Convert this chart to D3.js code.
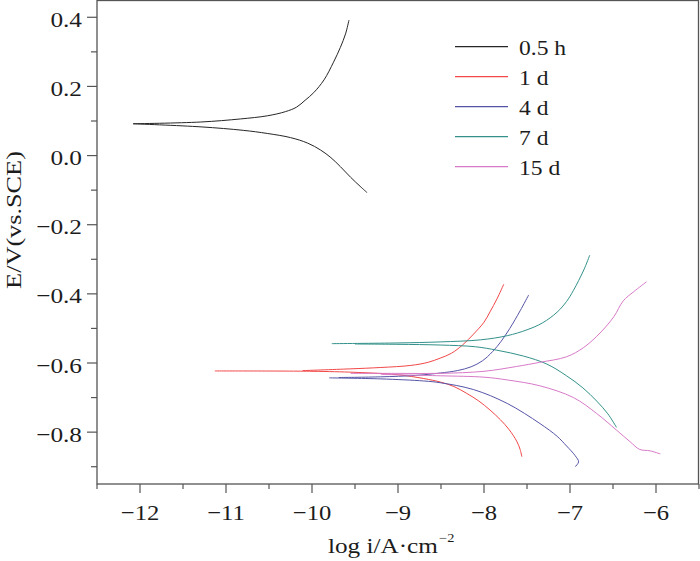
<!DOCTYPE html>
<html>
<head>
<meta charset="utf-8">
<script src="https://cdn.jsdelivr.net/npm/d3@7"></script>
<style>
  body { margin: 0; background: #fff; }
  svg { display: block; }
  text { font-family: "Liberation Serif", "Times New Roman", serif; fill: #1c1c1c; }
</style>
</head>
<body>
<div id="chart"></div>
<script>
// log i (A/cm2) vs E (V vs SCE), each curve = anodic + cathodic branch
var h05Anodic  = [[-12.08,0.092],[-11.3,0.097],[-10.83,0.106],[-10.52,0.115],[-10.31,0.127],[-10.18,0.140],[-10.08,0.160],[-9.98,0.182],[-9.86,0.219],[-9.75,0.270],[-9.67,0.313],[-9.61,0.352],[-9.57,0.392]];
var h05Cathodic = [[-12.08,0.092],[-11.29,0.083],[-10.8,0.073],[-10.52,0.064],[-10.25,0.052],[-10.05,0.036],[-9.90,0.016],[-9.78,-0.006],[-9.67,-0.032],[-9.55,-0.063],[-9.44,-0.089],[-9.36,-0.107]];

var d1Anodic   = [[-10.11,-0.622],[-9.56,-0.617],[-9.2,-0.613],[-8.85,-0.607],[-8.65,-0.598],[-8.51,-0.586],[-8.38,-0.572],[-8.25,-0.548],[-8.12,-0.516],[-8.0,-0.482],[-7.93,-0.452],[-7.85,-0.415],[-7.77,-0.372]];
var d1Cathodic = [[-11.13,-0.623],[-10.0,-0.624],[-9.5,-0.627],[-9.0,-0.634],[-8.70,-0.645],[-8.51,-0.655],[-8.35,-0.668],[-8.20,-0.688],[-8.06,-0.710],[-7.93,-0.736],[-7.81,-0.764],[-7.71,-0.792],[-7.62,-0.826],[-7.58,-0.850],[-7.56,-0.871]];

var d4Anodic   = [[-9.69,-0.642],[-9.2,-0.640],[-8.8,-0.636],[-8.51,-0.629],[-8.31,-0.622],[-8.15,-0.611],[-8.02,-0.594],[-7.90,-0.567],[-7.80,-0.537],[-7.70,-0.500],[-7.58,-0.449],[-7.48,-0.403]];
var d4Cathodic = [[-9.80,-0.643],[-9.2,-0.646],[-8.70,-0.652],[-8.51,-0.657],[-8.12,-0.677],[-7.73,-0.717],[-7.35,-0.775],[-7.15,-0.812],[-7.04,-0.840],[-6.94,-0.868],[-6.90,-0.886],[-6.94,-0.900]];

var d7Anodic   = [[-9.77,-0.544],[-9.0,-0.542],[-8.51,-0.539],[-8.04,-0.533],[-7.73,-0.521],[-7.50,-0.504],[-7.32,-0.484],[-7.15,-0.453],[-7.04,-0.422],[-6.96,-0.390],[-6.84,-0.331],[-6.77,-0.288]];
var d7Cathodic = [[-9.5,-0.545],[-9.0,-0.546],[-8.51,-0.548],[-8.1,-0.553],[-7.85,-0.563],[-7.54,-0.580],[-7.27,-0.603],[-7.04,-0.637],[-6.85,-0.672],[-6.69,-0.710],[-6.56,-0.747],[-6.46,-0.786]];

var d15Anodic   = [[-9.55,-0.630],[-9.0,-0.630],[-8.51,-0.630],[-8.0,-0.624],[-7.62,-0.610],[-7.35,-0.598],[-7.04,-0.582],[-6.84,-0.555],[-6.65,-0.513],[-6.49,-0.466],[-6.38,-0.420],[-6.26,-0.394],[-6.11,-0.365]];
var d15Cathodic = [[-9.2,-0.633],[-8.51,-0.637],[-8.0,-0.641],[-7.73,-0.649],[-7.35,-0.666],[-6.96,-0.700],[-6.69,-0.746],[-6.46,-0.794],[-6.30,-0.828],[-6.19,-0.850],[-6.07,-0.854],[-5.95,-0.863]];

var seriesNames  = ["0.5 h", "1 d", "4 d", "7 d", "15 d"];
var seriesColors = ["#262626", "#f24848", "#5555a8", "#33918a", "#d87ac8"];
var seriesData   = [[h05Anodic, h05Cathodic], [d1Anodic, d1Cathodic], [d4Anodic, d4Cathodic], [d7Anodic, d7Cathodic], [d15Anodic, d15Cathodic]];

var xMajor = [-12, -11, -10, -9, -8, -7, -6];
var xMinor = [-12.5, -11.5, -10.5, -9.5, -8.5, -7.5, -6.5, -5.5];
var yMajor = [-0.8, -0.6, -0.4, -0.2, 0.0, 0.2, 0.4];
var yMinor = [-0.9, -0.7, -0.5, -0.3, -0.1, 0.1, 0.3];

var width = 700, height = 561;
var margin = {top: 0, right: 1, bottom: 77, left: 97};

var svg = d3.select("#chart").append("svg")
  .attr("width", width)
  .attr("height", height);

var x = d3.scaleLinear().domain([-12.5, -5.5]).range([margin.left, width - margin.right]);
var y = d3.scaleLinear().domain([-0.95, 0.45]).range([height - margin.bottom, margin.top]);

var fmtMinus = function(s) { return s.replace("-", "\u2212"); };

// stretched text helper (reference glyphs are wide)
function label(g, tx, ty, str, sx, size, anchor, rot)
{
  return g.append("text")
    .attr("transform", "translate(" + tx + "," + ty + ")" + (rot ? " rotate(" + rot + ")" : "") + " scale(" + sx + ",1)")
    .attr("font-size", size)
    .attr("text-anchor", anchor)
    .text(str);
}

var axisColor = "#555";
var gAxis = svg.append("g");

// ticks, outward
gAxis.selectAll("line.xmaj").data(xMajor).join("line")
  .attr("x1", d => x(d)).attr("x2", d => x(d))
  .attr("y1", y(-0.95)).attr("y2", y(-0.95) + 9)
  .attr("stroke", axisColor).attr("stroke-width", 1.2);
gAxis.selectAll("line.xmin").data(xMinor).join("line")
  .attr("x1", d => x(d)).attr("x2", d => x(d))
  .attr("y1", y(-0.95)).attr("y2", y(-0.95) + 5)
  .attr("stroke", axisColor).attr("stroke-width", 1.2);
gAxis.selectAll("line.ymaj").data(yMajor).join("line")
  .attr("x1", x(-12.5) - 10).attr("x2", x(-12.5))
  .attr("y1", d => y(d)).attr("y2", d => y(d))
  .attr("stroke", axisColor).attr("stroke-width", 1.2);
gAxis.selectAll("line.ymin").data(yMinor).join("line")
  .attr("x1", x(-12.5) - 6).attr("x2", x(-12.5))
  .attr("y1", d => y(d)).attr("y2", d => y(d))
  .attr("stroke", axisColor).attr("stroke-width", 1.2);

xMajor.forEach(function(v) {
  label(gAxis, x(v), 520, fmtMinus(d3.format("d")(v)), 1.12, 22, "middle");
});
yMajor.forEach(function(v) {
  label(gAxis, 82, y(v) + 9.5, fmtMinus(d3.format(".1f")(v)), 1.15, 22, "end");
});

// frame
svg.append("rect")
  .attr("x", x(-12.5)).attr("y", y(0.45) + 0.5)
  .attr("width", x(-5.5) - x(-12.5) - 0.5)
  .attr("height", y(-0.95) - y(0.45) - 0.5)
  .attr("fill", "none").attr("stroke", axisColor).attr("stroke-width", 1.3);

// axis titles
var xt = label(svg, 328, 553, "log i/A\u00b7cm", 1.2, 21, "start");
xt.append("tspan").attr("font-size", 12).attr("dy", -11).attr("dx", 1).text("\u22122");
label(svg, 21, 220, "E/V(vs.SCE)", 1.25, 21, "middle", -90);

// curves
var line = d3.line()
  .x(d => x(d[0]))
  .y(d => y(d[1]))
  .curve(d3.curveCatmullRom.alpha(0.5));

var gCurves = svg.append("g");
seriesData.forEach(function(branches, i) {
  gCurves.selectAll(null).data(branches).join("path")
    .attr("d", line)
    .attr("fill", "none")
    .attr("stroke", seriesColors[i])
    .attr("stroke-width", 1);
});

// legend
var legend = svg.append("g").selectAll("g")
  .data(seriesNames)
  .join("g")
  .attr("transform", (d, i) => "translate(455," + (46.7 + i * 30) + ")");
legend.append("line")
  .attr("x1", 0).attr("x2", 53)
  .attr("stroke", (d, i) => seriesColors[i])
  .attr("stroke-width", 1.2);
legend.each(function(d) {
  label(d3.select(this), 64, 8.3, d, 1.07, 22, "start");
});
</script>
</body>
</html>
